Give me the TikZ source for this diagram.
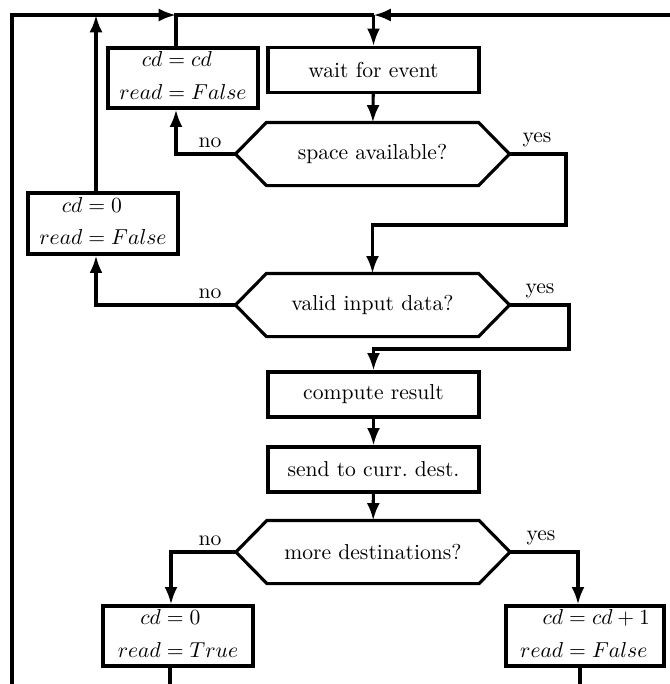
\documentclass[tikz,border=0pt]{standalone}
\usepackage{amsmath}
\usetikzlibrary{arrows.meta,calc}
\newcommand\pxl{0.463pt}
\begin{document}
\begin{tikzpicture}[x=0.463pt,y=-0.463pt,
  line width=1.45pt,
  proc/.style={draw,rectangle,minimum width=211*\pxl,minimum height=45*\pxl,inner sep=0pt},
  asgn/.style={draw,rectangle,minimum width=150*\pxl,minimum height=60*\pxl,inner sep=0pt},
  hexn/.style={rectangle,minimum width=271*\pxl,minimum height=60*\pxl,inner sep=0pt},
  lbl/.style={anchor=base,inner sep=0pt},
  arr/.style={-{Latex[length=8pt,width=6pt]}}
]
\useasboundingbox (0,0) rectangle (670,684);

% nodes
\node[proc] (wait) at (373.5,70) {wait for event};
\node[hexn] (h1) at (372.5,154) {space available?};
\node[asgn] (cdcd) at (183,78) {$\begin{aligned}cd&=cd\\read&=False\end{aligned}$};
\node[asgn,minimum height=61*\pxl] (cd0F) at (103,223.5) {$\begin{aligned}cd&=0\\read&=False\end{aligned}$};
\node[hexn] (h2) at (372.5,305) {valid input data?};
\node[proc] (comp) at (373.5,394.5) {compute result};
\node[proc] (send) at (373.5,469.5) {send to curr.\ dest.};
\node[hexn] (h3) at (373,552) {more destinations?};
\node[asgn] (cd0T) at (178,636) {$\begin{aligned}cd&=0\\read&=True\end{aligned}$};
\node[asgn,minimum width=158*\pxl] (cdcd1) at (585,636) {$\begin{aligned}cd&=cd+1\\read&=False\end{aligned}$};

% hexagon outlines
\foreach \h in {h1,h2,h3}
  \draw (\h.west) -- ([xshift=31*\pxl]\h.north west) -- ([xshift=-31*\pxl]\h.north east)
        -- (\h.east) -- ([xshift=-31*\pxl]\h.south east) -- ([xshift=31*\pxl]\h.south west) -- cycle;

% labels
\node[lbl] (no1) at (210,147) {no};
\node[lbl] (yes1) at (537,142) {yes};
\node[lbl] (no2) at (210,298) {no};
\node[lbl] (yes2) at (540,293) {yes};
\node[lbl] (no3) at (210,545) {no};
\node[lbl] (yes3) at (541,540) {yes};

% free-end coordinates
\coordinate (tl) at (12,15);
\coordinate (bl) at (12,684);
\coordinate (tr) at (670,15);
\coordinate (j1) at (176,15);
\coordinate (j0) at (96,15);
\coordinate (jw) at (373.5,15);
\coordinate (bT) at (170,684);
\coordinate (bF) at (580,684);
\coordinate (y1) at (566,225);
\coordinate (y2) at (569,349);

% connectors
\draw[arr] (bl) -- (tl) -- (j1);
\draw[arr] (cd0F.north -| j0) -- (j0);
\draw (cdcd.north -| j1) -- (j1) -- (jw);
\draw[arr] (tr) -- (jw);
\draw[arr] (jw) -- (wait.north);
\draw[arr] (wait) -- (h1);
\draw[arr] (h1.west) -| (cdcd.south -| j1);
\draw[arr] (h1.east) -| (y1) -| (h2.north);
\draw[arr] (h2.west) -| (cd0F.south -| j0);
\draw[arr] (h2.east) -| (y2) -| (comp.north);
\draw[arr] (comp) -- (send);
\draw[arr] (send) -- (h3);
\draw[arr] (h3.west) -| ([xshift=-7*\pxl]cd0T.north);
\draw[arr] (h3.east) -| ([xshift=-7*\pxl]cdcd1.north);
\draw (cd0T.south -| bT) -- (bT);
\draw (cdcd1.south -| bF) -- (bF);
\end{tikzpicture}
\end{document}
